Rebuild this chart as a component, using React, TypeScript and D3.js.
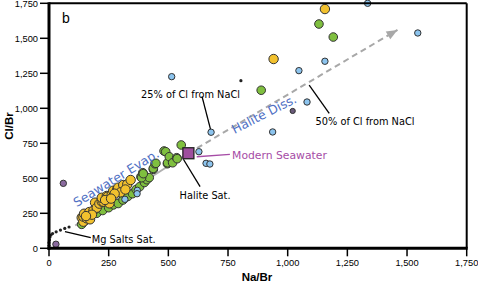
import React from "react";
import * as d3 from "d3";

const W = 478;
const H = 282;

const xTicks = [0, 250, 500, 750, 1000, 1250, 1500, 1750];
const yTicks = [0, 250, 500, 750, 1000, 1250, 1500, 1750];

// Yellow series [Na/Br, Cl/Br]
const yellowPts: [number, number][] = [
  [1156, 1709], [941, 1352],
  [137, 219], [144, 190], [144, 226], [158, 214], [165, 250], [147, 247],
  [172, 207], [169, 259], [186, 269], [200, 297], [193, 326], [200, 290],
  [211, 319], [221, 333], [228, 333], [221, 361], [242, 374], [246, 369],
  [253, 321], [263, 386], [269, 411], [286, 421], [290, 433], [311, 452],
  [328, 457], [342, 488], [300, 400], [180, 240], [155, 230], [235, 345],
  [275, 390], [320, 420], [260, 355],
];

// Green series
const greenPts: [number, number][] = [
  [1131, 1602], [1191, 1509], [889, 1129],
  [137, 171], [150, 195], [175, 230], [200, 250], [225, 270], [250, 290],
  [270, 310], [290, 320], [310, 345], [330, 370], [350, 390], [365, 420],
  [380, 440], [400, 470], [410, 490], [420, 505],
  [385, 511], [388, 504], [393, 540], [395, 533], [437, 564], [437, 571],
  [444, 604], [448, 607], [482, 695], [489, 690], [496, 604], [497, 611],
  [504, 654], [518, 611], [535, 647], [537, 640], [554, 738],
];

// Blue series
const bluePts: [number, number][] = [
  [1335, 1750], [1545, 1538], [1156, 1336], [1047, 1269], [1081, 1045],
  [937, 831], [514, 1226], [679, 829], [628, 690], [658, 607], [674, 602],
  [370, 414], [369, 390], [318, 350],
];

// Dark purple points
const purplePts: [number, number][] = [[60, 464], [29, 29]];
const darkSmallPts: [number, number][] = [[1021, 981]];

// Small black dots (evaporation path etc.)
const blackDots: [number, number][] = [
  [804, 1197], [423, 488],
  [0, 20], [0, 40], [2, 60], [4, 80], [8, 95], [15, 105], [30, 118],
  [48, 130], [66, 142], [84, 152],
];

const seawater: [number, number] = [584, 679];
const evapEnd: [number, number] = [110, 163];
const dissEnd: [number, number] = [1460, 1560];

type Label = { text: string; at: [number, number]; from: [number, number]; to: [number, number]; anchor: string };
const labels: Label[] = [
  { text: "25% of Cl from NaCl", at: [593, 1100], from: [641, 1085], to: [677, 848], anchor: "middle" },
  { text: "50% of Cl from NaCl", at: [1324, 909], from: [1090, 1166], to: [1174, 964], anchor: "middle" },
  { text: "Halite Sat.", at: [654, 374], from: [563, 636], to: [633, 440], anchor: "middle" },
  { text: "Mg Salts Sat.", at: [313, 64], from: [67, 119], to: [175, 76], anchor: "middle" },
];

export default function App() {
  const x = d3.scaleLinear().domain([0, 1750]).range([49, 466.7]);
  const y = d3.scaleLinear().domain([0, 1750]).range([248.3, 3.3]);
  const fmt = d3.format(",");
  const line = d3.line<[number, number]>().x((d) => x(d[0])).y((d) => y(d[1]));

  const arrowHead = (from: [number, number], to: [number, number], len: number, wid: number) => {
    const x1 = x(from[0]), y1 = y(from[1]), x2 = x(to[0]), y2 = y(to[1]);
    const a = Math.atan2(y2 - y1, x2 - x1);
    const bx = x2 - len * Math.cos(a), by = y2 - len * Math.sin(a);
    const px = -Math.sin(a) * wid / 2, py = Math.cos(a) * wid / 2;
    return `M${x2},${y2}L${bx + px},${by + py}L${bx - px},${by - py}Z`;
  };

  const labelFont = "DejaVu Sans, sans-serif";
  const tickFont = "Liberation Sans, Arial, sans-serif";

  return (
    <svg width={W} height={H} style={{ position: "absolute", left: 0, top: 0, background: "#fff" }}>
      <path d={line([seawater, evapEnd]) || ""} stroke="#b0b0b0" strokeWidth={2} fill="none" />
      <path d={arrowHead(seawater, evapEnd, 11, 8)} fill="#a8a8a8" />
      <path d={line([seawater, dissEnd]) || ""} stroke="#a8a8a8" strokeWidth={2} strokeDasharray="6,4" fill="none" />
      <path d={arrowHead(seawater, dissEnd, 11, 9)} fill="#a8a8a8" />

      {labels.map((l, i) => (
        <path key={i} d={line([l.from, l.to]) || ""} stroke="#000" strokeWidth={1.3} fill="none" />
      ))}
      <path d={line([[619, 654], [758, 671]]) || ""} stroke="#a64ca6" strokeWidth={1.3} fill="none" />

      {blackDots.map((d, i) => (
        <circle key={"k" + i} cx={x(d[0])} cy={y(d[1])} r={1.6} fill="#222" />
      ))}
      {greenPts.map((d, i) => (
        <circle key={"g" + i} cx={x(d[0])} cy={y(d[1])} r={4.3} fill="#7fbf3f" stroke="#333" strokeWidth={1} />
      ))}
      {yellowPts.map((d, i) => (
        <circle key={"y" + i} cx={x(d[0])} cy={y(d[1])} r={4.7} fill="#f2c12e" stroke="#333" strokeWidth={1} />
      ))}
      {bluePts.map((d, i) => (
        <circle key={"b" + i} cx={x(d[0])} cy={y(d[1])} r={3.2} fill="#8cc4ee" stroke="#333" strokeWidth={1} />
      ))}
      {purplePts.map((d, i) => (
        <circle key={"p" + i} cx={x(d[0])} cy={y(d[1])} r={3.2} fill="#8a6a9e" stroke="#333" strokeWidth={1} />
      ))}
      {darkSmallPts.map((d, i) => (
        <circle key={"d" + i} cx={x(d[0])} cy={y(d[1])} r={2.6} fill="#6a5a7a" stroke="#333" strokeWidth={1} />
      ))}
      <rect x={x(seawater[0]) - 5.5} y={y(seawater[1]) - 5.5} width={11} height={11} fill="#9e4f9e" stroke="#222" strokeWidth={1.3} />

      <line x1={x(0)} x2={x(1750)} y1={y(1750)} y2={y(1750)} stroke="#000" strokeWidth={2} />
      <line x1={x(1750)} x2={x(1750)} y1={y(0)} y2={y(1750)} stroke="#000" strokeWidth={2} />
      <line x1={x(0)} x2={x(0)} y1={y(0) + 1.5} y2={y(1750) - 1} stroke="#000" strokeWidth={3} />
      <line x1={x(0) - 1.5} x2={x(1750) + 1} y1={y(0)} y2={y(0)} stroke="#000" strokeWidth={3} />

      {xTicks.map((t) => (
        <g key={"xt" + t}>
          <line x1={x(t)} x2={x(t)} y1={y(0)} y2={y(0) + 8} stroke="#000" strokeWidth={1.5} />
          <text x={x(t)} y={y(0) + 18} fontSize={9.3} fontFamily={tickFont} textAnchor="middle" fill="#000">{fmt(t)}</text>
        </g>
      ))}
      {yTicks.map((t) => (
        <g key={"yt" + t}>
          <line x1={x(0) - 9} x2={x(0)} y1={y(t)} y2={y(t)} stroke="#000" strokeWidth={1.5} />
          <text x={x(0) - 11} y={y(t) + 3.2} fontSize={9.3} fontFamily={tickFont} textAnchor="end" fill="#000">{fmt(t)}</text>
        </g>
      ))}

      <text x={257} y={281} fontSize={11.5} fontWeight="bold" fontFamily={tickFont} textAnchor="middle">Na/Br</text>
      <text transform="translate(13,126) rotate(-90)" fontSize={11.5} fontWeight="bold" fontFamily={tickFont} textAnchor="middle">Cl/Br</text>

      <text x={62} y={23} fontSize={14} fontFamily={tickFont}>b</text>

      {labels.map((l, i) => (
        <text key={"lt" + i} x={x(l.at[0])} y={y(l.at[1]) + 3.5} fontSize={9.8} fontFamily={labelFont} textAnchor={l.anchor}>{l.text}</text>
      ))}
      <text x={x(767)} y={y(666) + 3.8} fontSize={10.8} fontFamily={labelFont} fill="#a64ca6">Modern Seawater</text>
      <text transform={`translate(${x(281)},${y(502)}) rotate(-31.5)`} fontSize={12.5} fontFamily={labelFont} fill="#4f70c4" textAnchor="middle" dy="0.35em">Seawater Evap.</text>
      <text transform={`translate(${x(901)},${y(959)}) rotate(-27)`} fontSize={12.5} fontFamily={labelFont} fill="#4f70c4" textAnchor="middle" dy="0.35em">Halite Diss.</text>
    </svg>
  );
}
